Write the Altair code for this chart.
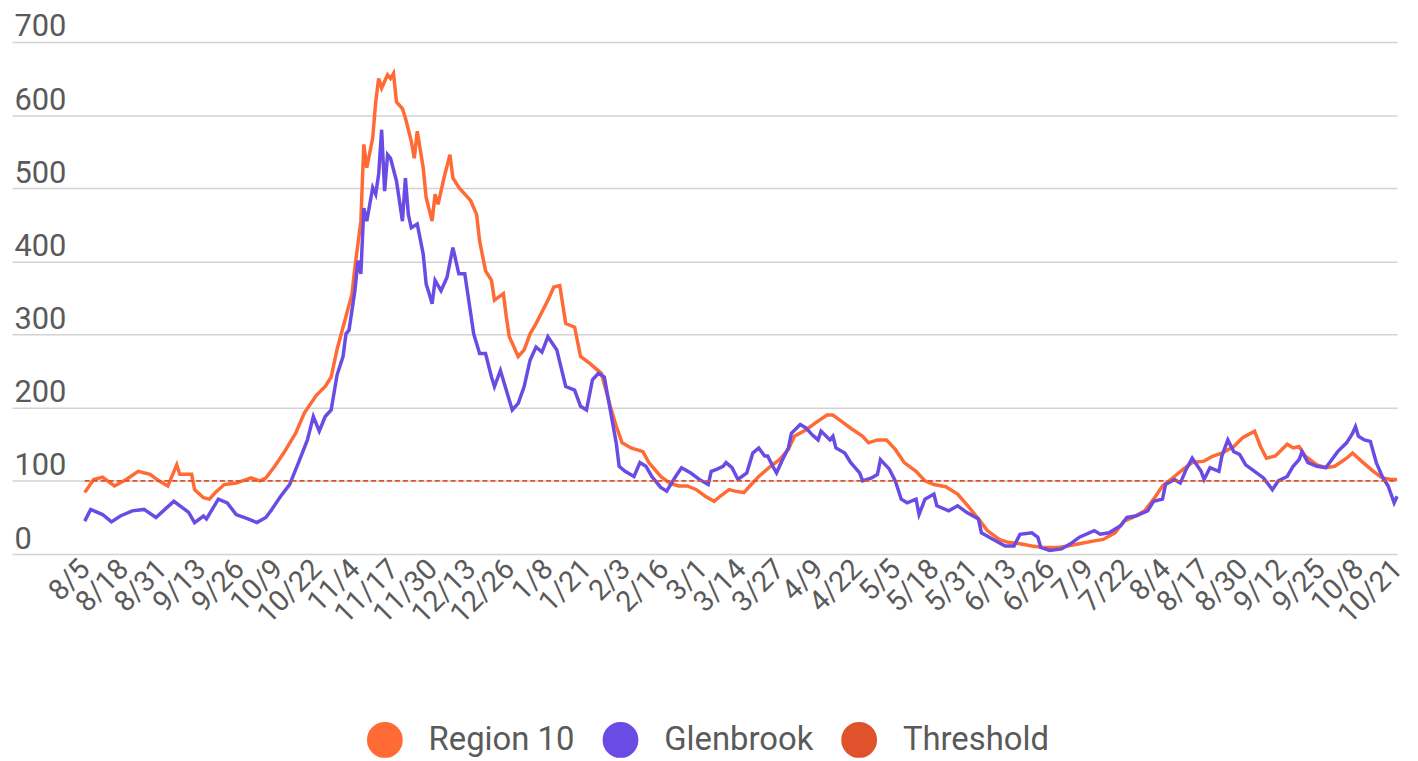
import altair as alt
import pandas as pd

BASE = pd.Timestamp("2020-08-05")

# (days since 8/5/2020, value)
region10 = [
    (0, 84), (3, 102), (6, 105), (10, 93), (14, 102), (18, 113), (22, 109), (25, 100), (28, 93),
    (31, 122), (32, 109), (36, 109), (37, 88), (40, 77), (42, 75), (44, 84), (47, 95), (51, 97),
    (56, 104), (59, 100), (61, 104), (64, 120), (67, 138), (71, 165), (74, 193), (78, 217),
    (81, 229), (83, 242), (85, 280), (88, 325), (90, 355), (91, 392), (93, 455), (94, 560),
    (95, 528), (97, 569), (98, 618), (99, 650), (100, 637), (102, 655), (103, 650), (104, 657),
    (105, 618), (107, 609), (108, 596), (110, 564), (111, 541), (112, 578), (114, 528), (115, 487),
    (117, 455), (118, 492), (119, 478), (121, 514), (123, 546), (124, 514), (126, 501), (128, 492),
    (130, 483), (132, 464), (133, 428), (135, 387), (137, 374), (138, 347), (141, 356), (142, 324),
    (143, 297), (146, 270), (148, 279), (150, 301), (152, 315), (156, 347), (158, 365), (160, 367),
    (162, 315), (165, 310), (167, 270), (170, 261), (174, 247), (177, 202), (179, 175), (181, 152),
    (184, 145), (188, 140), (190, 125), (194, 106), (197, 97), (200, 93), (203, 93), (206, 88),
    (209, 79), (212, 72), (214, 79), (217, 88), (219, 86), (222, 84), (224, 93), (227, 106),
    (231, 120), (234, 129), (237, 143), (239, 161), (243, 170), (246, 179), (250, 190), (252, 190),
    (255, 181), (258, 172), (262, 161), (264, 152), (267, 156), (270, 156), (273, 143), (276, 125),
    (280, 113), (283, 100), (286, 95), (290, 92), (294, 82), (298, 63), (301, 48), (304, 32),
    (308, 20), (311, 16), (315, 14), (319, 11), (323, 9), (328, 9), (331, 11), (335, 14), (340, 18),
    (343, 20), (347, 29), (350, 45), (353, 50), (357, 59), (360, 75), (363, 93), (367, 106),
    (370, 116), (373, 125), (377, 127), (380, 134), (383, 138), (387, 147), (390, 159), (394, 168),
    (396, 147), (398, 131), (401, 134), (405, 150), (407, 145), (409, 147), (411, 134), (415, 122),
    (418, 118), (421, 120), (425, 131), (427, 138), (430, 127), (434, 113), (437, 104), (440, 102),
    (442, 102),
]

glenbrook = [
    (0, 45), (2, 61), (6, 54), (9, 44), (12, 52), (16, 59), (20, 61), (24, 50), (27, 61), (30, 72),
    (33, 63), (35, 57), (37, 43), (40, 52), (41, 48), (45, 75), (48, 70), (51, 54), (55, 48),
    (58, 43), (61, 50), (63, 61), (66, 79), (69, 95), (72, 125), (75, 156), (77, 188), (79, 168),
    (81, 188), (83, 197), (85, 245), (87, 270), (88, 301), (89, 306), (91, 360), (92, 401),
    (93, 383), (94, 473), (95, 455), (97, 501), (98, 492), (99, 519), (100, 580), (101, 496),
    (102, 546), (103, 541), (105, 510), (107, 455), (108, 514), (109, 464), (110, 446), (112, 451),
    (114, 410), (115, 369), (116, 356), (117, 342), (118, 374), (120, 360), (122, 378), (124, 419),
    (126, 383), (128, 383), (129, 356), (131, 301), (133, 274), (135, 274), (137, 242), (138, 229),
    (140, 251), (142, 224), (144, 197), (146, 206), (148, 229), (150, 265), (152, 283), (154, 276),
    (156, 297), (159, 279), (162, 229), (165, 224), (167, 202), (169, 197), (171, 238), (173, 247),
    (175, 242), (177, 197), (179, 152), (180, 120), (182, 113), (185, 106), (187, 125), (189, 120),
    (191, 106), (194, 91), (196, 86), (199, 106), (201, 118), (204, 111), (207, 102), (210, 95),
    (211, 113), (213, 116), (215, 120), (216, 125), (218, 118), (220, 102), (223, 111), (225, 138),
    (227, 145), (229, 134), (230, 134), (232, 118), (233, 111), (235, 129), (237, 145), (238, 165),
    (241, 177), (243, 172), (245, 163), (247, 156), (248, 168), (251, 156), (252, 161), (253, 145),
    (256, 138), (258, 125), (261, 111), (262, 100), (265, 104), (267, 109), (268, 129), (271, 116),
    (273, 100), (275, 75), (277, 70), (280, 75), (281, 54), (283, 75), (286, 82), (287, 66),
    (291, 59), (294, 66), (297, 57), (301, 48), (302, 29), (306, 20), (310, 11), (313, 11),
    (315, 27), (319, 29), (321, 23), (322, 9), (325, 5), (329, 7), (332, 14), (335, 23), (340, 32),
    (342, 27), (345, 29), (349, 39), (351, 50), (354, 52), (358, 59), (360, 72), (363, 75),
    (364, 95), (367, 102), (369, 97), (371, 116), (373, 131), (376, 113), (377, 102), (379, 118),
    (382, 113), (383, 134), (385, 156), (387, 140), (389, 136), (391, 122), (394, 113), (397, 104),
    (400, 88), (402, 100), (405, 106), (407, 120), (409, 129), (410, 140), (412, 125), (415, 120),
    (418, 118), (420, 129), (422, 140), (425, 152), (427, 165), (428, 174), (429, 161), (431, 156),
    (433, 154), (435, 125), (437, 106), (439, 93), (441, 70), (442, 79),
]

threshold = [(0, 100), (442, 100)]

tick_dates = [
    "2020-08-05", "2020-08-18", "2020-08-31", "2020-09-13", "2020-09-26", "2020-10-09",
    "2020-10-22", "2020-11-04", "2020-11-17", "2020-11-30", "2020-12-13", "2020-12-26",
    "2021-01-08", "2021-01-21", "2021-02-03", "2021-02-16", "2021-03-01", "2021-03-14",
    "2021-03-27", "2021-04-09", "2021-04-22", "2021-05-05", "2021-05-18", "2021-05-31",
    "2021-06-13", "2021-06-26", "2021-07-09", "2021-07-22", "2021-08-04", "2021-08-17",
    "2021-08-30", "2021-09-12", "2021-09-25", "2021-10-08", "2021-10-21",
]
y_ticks = [0, 100, 200, 300, 400, 500, 600, 700]

series_names = ["Region 10", "Glenbrook", "Threshold"]
series_colors = ["#FF6A35", "#6A4BE3", "#E0522C"]

rows = []
for name, pts in zip(series_names, [region10, glenbrook, threshold]):
    for d, v in pts:
        rows.append({
            "series": name,
            "date": (BASE + pd.Timedelta(days=d)).strftime("%Y-%m-%dT00:00:00"),
            "value": v,
        })
df = pd.DataFrame(rows)


def to_dt(s, hours=0):
    y, m, d = (int(p) for p in s.split("-"))
    return alt.DateTime(year=y, month=m, date=d, hours=hours)


tick_dt = [to_dt(s) for s in tick_dates]
x_domain = [to_dt("2020-07-11", 12), to_dt("2021-10-21")]

FONT = "Roboto"
LABEL_COLOR = "#5a5a5a"

x_enc = alt.X(
    "date:T",
    scale=alt.Scale(domain=x_domain, nice=False),
    axis=alt.Axis(
        values=tick_dt, format="%-m/%-d", labelAngle=-45, labelAlign="right",
        labelBaseline="middle", labelPadding=10, labelOffset=0, ticks=False, tickSize=0,
        domain=False, grid=False, labelOverlap=False, labelFont=FONT, labelFontSize=29,
        labelColor=LABEL_COLOR, title=None,
    ),
)
y_enc = alt.Y(
    "value:Q",
    scale=alt.Scale(domain=[0, 700], nice=False),
    axis=alt.Axis(
        values=y_ticks, title=None, labelAlign="left", labelBaseline="alphabetic",
        labelPadding=-2, labelOffset=-6, ticks=False, tickSize=0, domain=False,
        grid=True, gridColor="#d3d3d3", gridWidth=1.5, labelOverlap=False,
        labelFont=FONT, labelFontSize=31, labelColor=LABEL_COLOR,
    ),
)
# filled-looking circles: a small circle with a very wide stroke
legend = alt.Legend(
    title=None, orient="none", legendX=357, legendY=684, direction="horizontal",
    symbolType="circle", symbolSize=324, symbolStrokeWidth=18, symbolOpacity=1,
    symbolDashOffset=0,
    labelFont=FONT, labelFontSize=33, labelColor=LABEL_COLOR,
    labelOffset=26, columnPadding=1,
)
color_enc = alt.Color(
    "series:N", scale=alt.Scale(domain=series_names, range=series_colors), legend=legend
)

base = alt.Chart(df)
l_r10 = base.transform_filter(alt.datum.series == "Region 10").mark_line(
    strokeWidth=3.5).encode(x=x_enc, y=y_enc, color=color_enc)
l_gb = base.transform_filter(alt.datum.series == "Glenbrook").mark_line(
    strokeWidth=3.5).encode(x=x_enc, y=y_enc, color=color_enc)
l_th = base.transform_filter(alt.datum.series == "Threshold").mark_line(
    strokeWidth=2, strokeDash=[5, 3]).encode(x=x_enc, y=y_enc, color=color_enc)

chart = alt.layer(l_r10, l_gb, l_th).properties(
    width=1393, height=515,
    autosize=alt.AutoSizeParams(type="none"),
    padding={"left": 4, "top": 32, "right": 13, "bottom": 206},
    background="white",
).configure_view(stroke=None)

chart.save("out.html", embed_options={"renderer": "svg", "actions": False})
